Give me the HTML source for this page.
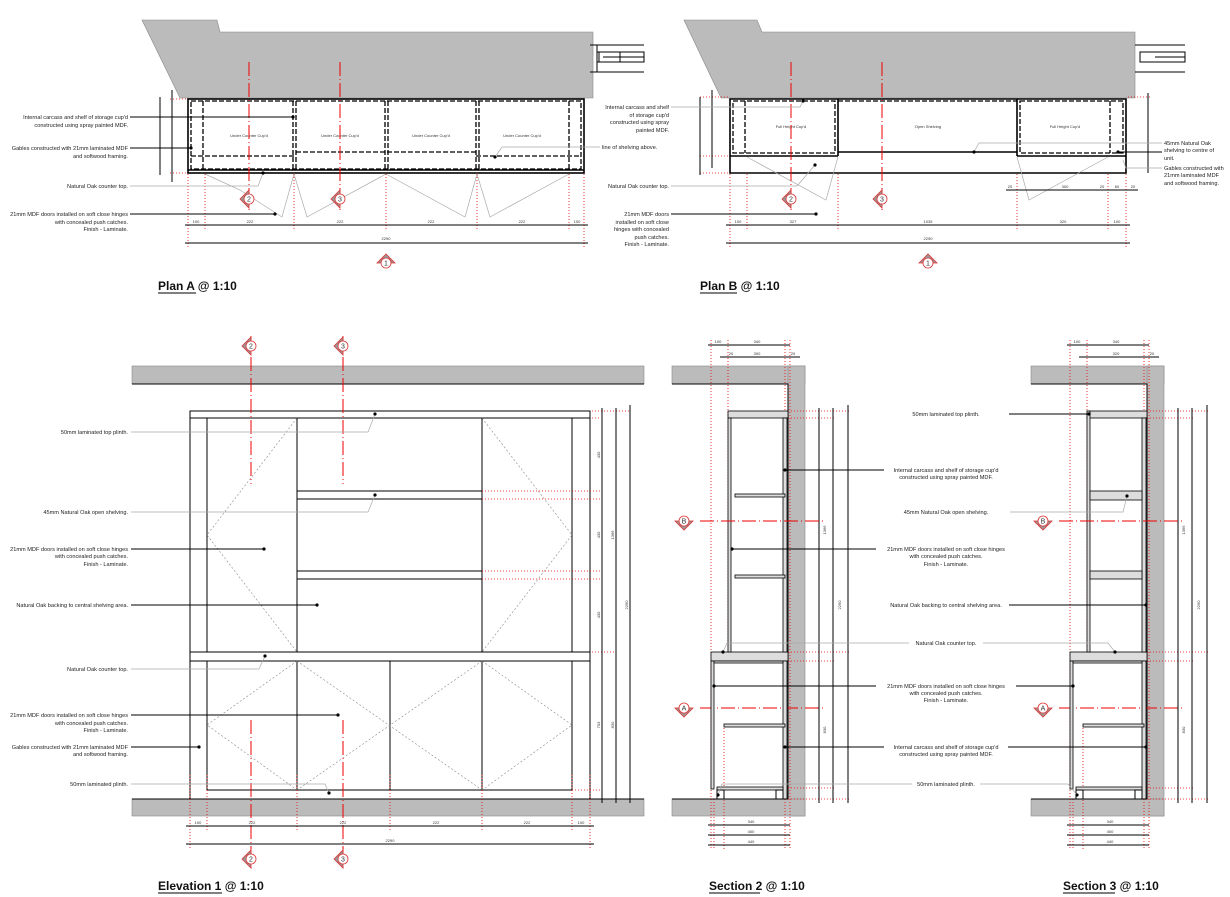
<!DOCTYPE html>
<html><head><meta charset="utf-8"><style>
html,body{margin:0;padding:0;background:#fff;}
svg{display:block;font-family:"Liberation Sans",sans-serif;}
.l{font-size:5.6px;fill:#222;}
.d{font-size:4px;fill:#333;}
.t{font-size:12px;font-weight:bold;fill:#111;}
.k{stroke:#000;stroke-width:1;fill:none;}
.k2{stroke:#000;stroke-width:1.6;fill:none;}
.g{stroke:#aaa;stroke-width:0.7;fill:none;}
.gd{stroke:#888;stroke-width:0.6;fill:none;stroke-dasharray:2 2;}
.dsh{stroke:#000;stroke-width:1.3;fill:none;stroke-dasharray:5 2;}
.rc{stroke:#e00;stroke-width:1;fill:none;stroke-dasharray:14 3 1 3;}
.rd{stroke:#e00;stroke-width:0.8;fill:none;stroke-dasharray:1 2;}
.wall{fill:#bbb;stroke:#888;stroke-width:0.6;}
.h{fill:#ddd;stroke:#000;stroke-width:0.8;}
</style></head><body>
<svg width="1230" height="897" viewBox="0 0 1230 897" xmlns="http://www.w3.org/2000/svg">
<defs>
<g id="mkL"><polygon points="-9,0 0,-9 0,9" fill="#999" stroke="#d33" stroke-width="0.8"/><circle r="5" fill="#fff" stroke="#d33" stroke-width="0.8"/></g>
<g id="mkU"><polygon points="-9,0 0,-9 9,0" fill="#999" stroke="#d33" stroke-width="0.8"/><circle r="5" fill="#fff" stroke="#d33" stroke-width="0.8"/></g>
<g id="mkD"><polygon points="-9,0 9,0 0,9" fill="#999" stroke="#d33" stroke-width="0.8"/><circle r="5" fill="#fff" stroke="#d33" stroke-width="0.8"/></g>
</defs>

<!-- ================= PLAN A ================= -->
<polygon class="wall" points="142,20 217,20 220,32 593,32 593,98 180,98"/>
<g class="k"><line x1="593" y1="45" x2="620" y2="45"/><line x1="593" y1="72" x2="620" y2="72"/><rect x="597" y="52" width="23" height="10"/><line x1="603" y1="57" x2="620" y2="57"/><line x1="597" y1="45" x2="597" y2="72"/></g>
<rect class="k2" x="188" y="99" width="396" height="74"/>
<line class="k2" x1="188" y1="170" x2="584" y2="170"/>
<g class="dsh">
<rect x="191" y="101" width="390" height="68"/>
<line x1="203" y1="101" x2="203" y2="169"/><line x1="293" y1="101" x2="293" y2="169"/><line x1="296" y1="101" x2="296" y2="169"/>
<line x1="385" y1="101" x2="385" y2="169"/><line x1="388" y1="101" x2="388" y2="169"/><line x1="476" y1="101" x2="476" y2="169"/><line x1="479" y1="101" x2="479" y2="169"/><line x1="569" y1="101" x2="569" y2="169"/>
<line x1="191" y1="156" x2="296" y2="156"/><line x1="296" y1="152" x2="476" y2="152"/><line x1="476" y1="156" x2="581" y2="156"/>
</g>
<g class="d" text-anchor="middle"><text x="249" y="137">Under Counter Cup'd</text><text x="340" y="137">Under Counter Cup'd</text><text x="431" y="137">Under Counter Cup'd</text><text x="522" y="137">Under Counter Cup'd</text></g>
<polyline class="g" points="205,174 240,190 282,217 294,174 307,217 386,174 465,217 477,174 490,217 569,174"/>
<line class="rc" x1="249" y1="62" x2="249" y2="210"/><line class="rc" x1="340" y1="62" x2="340" y2="210"/>
<g class="rd"><line x1="188" y1="174" x2="188" y2="247"/><line x1="205" y1="174" x2="205" y2="229"/><line x1="294" y1="174" x2="294" y2="229"/><line x1="386" y1="174" x2="386" y2="229"/><line x1="477" y1="174" x2="477" y2="229"/><line x1="569" y1="174" x2="569" y2="229"/><line x1="584" y1="174" x2="584" y2="247"/>
<line x1="170" y1="99" x2="186" y2="99"/><line x1="170" y1="173" x2="186" y2="173"/></g>
<g class="k"><line x1="185" y1="225" x2="588" y2="225"/><line x1="185" y1="243" x2="588" y2="243"/>
<line x1="160" y1="97" x2="160" y2="175"/><line x1="172" y1="90" x2="172" y2="182"/></g>
<g class="d" text-anchor="middle"><text x="196" y="223">100</text><text x="250" y="223">222</text><text x="340" y="223">222</text><text x="431" y="223">222</text><text x="522" y="223">222</text><text x="577" y="223">100</text><text x="386" y="240">2290</text></g>
<use href="#mkL" x="249" y="199"/><text x="249" y="201.5" class="d" text-anchor="middle" style="font-size:7px">2</text>
<use href="#mkL" x="340" y="199"/><text x="340" y="201.5" class="d" text-anchor="middle" style="font-size:7px">3</text>
<use href="#mkU" x="386" y="263"/><text x="386" y="265.5" class="d" text-anchor="middle" style="font-size:7px">1</text>
<g class="l" text-anchor="end">
<text x="128" y="119">Internal carcass and shelf of storage cup'd</text><text x="128" y="127">constructed using spray painted MDF.</text>
<text x="128" y="150">Gables constructed with 21mm laminated MDF</text><text x="128" y="158">and softwood framing.</text>
<text x="128" y="188">Natural Oak counter top.</text>
<text x="128" y="216">21mm MDF doors installed on soft close hinges</text><text x="128" y="224">with concealed push catches.</text><text x="128" y="231">Finish - Laminate.</text>
</g>
<g class="k"><line x1="130" y1="117" x2="293" y2="117"/><line x1="130" y1="148" x2="191" y2="148"/><line x1="130" y1="214" x2="275" y2="214"/></g>
<polyline class="g" points="130,186 258,186 263,173"/>
<polyline class="g" points="495,157 502,147 600,147"/>
<g fill="#000"><circle cx="293" cy="117" r="1.6"/><circle cx="191" cy="148" r="1.6"/><circle cx="275" cy="214" r="1.6"/><circle cx="263" cy="173" r="1.6"/><circle cx="495" cy="157" r="1.6"/></g>
<text x="602" y="149" class="l">line of shelving above.</text>
<text x="158" y="290" class="t">Plan A @ 1:10</text><line x1="158" y1="293" x2="196" y2="293" stroke="#000"/>

<!-- ================= PLAN B ================= -->
<polygon class="wall" points="684,20 757,20 762,32 1135,32 1135,98 721,98"/>
<g class="k"><line x1="590" y1="45" x2="644" y2="45"/><line x1="590" y1="72" x2="644" y2="72"/><rect x="599" y="52" width="45" height="10"/><line x1="614" y1="57" x2="644" y2="57"/>
<line x1="1135" y1="45" x2="1185" y2="45"/><line x1="1135" y1="72" x2="1185" y2="72"/><rect x="1140" y="52" width="45" height="10"/><line x1="1155" y1="57" x2="1185" y2="57"/></g>
<polygon class="k2" points="730,99 1126,99 1126,173 730,173"/>
<line class="k2" x1="730" y1="156" x2="838" y2="156"/><line class="k2" x1="838" y1="152" x2="1017" y2="152"/><line class="k2" x1="1017" y1="156" x2="1126" y2="156"/>
<line class="k2" x1="838" y1="99" x2="838" y2="156"/><line class="k2" x1="1017" y1="99" x2="1017" y2="156"/>
<g class="dsh"><rect x="733" y="101" width="102" height="52"/><rect x="1020" y="101" width="103" height="52"/><line x1="745" y1="101" x2="745" y2="153"/><line x1="1110" y1="101" x2="1110" y2="153"/><line x1="838" y1="101" x2="1017" y2="101"/></g>
<g class="d" text-anchor="middle"><text x="791" y="128">Full Height Cup'd</text><text x="928" y="128">Open Shelving</text><text x="1065" y="128">Full Height Cup'd</text></g>
<polyline class="g" points="747,157 826,200 838,157"/><polyline class="g" points="1108,157 1029,200 1017,157"/>
<line class="rc" x1="791" y1="62" x2="791" y2="210"/><line class="rc" x1="882" y1="62" x2="882" y2="210"/>
<g class="rd"><line x1="730" y1="174" x2="730" y2="247"/><line x1="747" y1="174" x2="747" y2="229"/><line x1="838" y1="174" x2="838" y2="229"/><line x1="1017" y1="174" x2="1017" y2="229"/><line x1="1108" y1="174" x2="1108" y2="229"/><line x1="1126" y1="174" x2="1126" y2="247"/>
<line x1="700" y1="97" x2="728" y2="97"/><line x1="700" y1="173" x2="728" y2="173"/><line x1="700" y1="156" x2="728" y2="156"/><line x1="1128" y1="97" x2="1150" y2="97"/></g>
<g class="k"><line x1="726" y1="225" x2="1130" y2="225"/><line x1="726" y1="243" x2="1130" y2="243"/><line x1="1006" y1="190" x2="1138" y2="190"/>
<line x1="700" y1="97" x2="700" y2="175"/><line x1="712" y1="90" x2="712" y2="168"/><line x1="1148" y1="93" x2="1148" y2="173"/></g>
<g class="d" text-anchor="middle"><text x="738" y="223">100</text><text x="793" y="223">327</text><text x="928" y="223">1035</text><text x="1063" y="223">320</text><text x="1117" y="223">100</text><text x="928" y="240">2290</text>
<text x="1010" y="188">20</text><text x="1065" y="188">300</text><text x="1102" y="188">20</text><text x="1117" y="188">60</text><text x="1133" y="188">20</text></g>
<use href="#mkL" x="791" y="199"/><text x="791" y="201.5" class="d" text-anchor="middle" style="font-size:7px">2</text>
<use href="#mkL" x="882" y="199"/><text x="882" y="201.5" class="d" text-anchor="middle" style="font-size:7px">3</text>
<use href="#mkU" x="928" y="263"/><text x="928" y="265.5" class="d" text-anchor="middle" style="font-size:7px">1</text>
<g class="l" text-anchor="end">
<text x="669" y="109">Internal carcass and shelf</text><text x="669" y="117">of storage cup'd</text><text x="669" y="124">constructed using spray</text><text x="669" y="132">painted MDF.</text>
<text x="669" y="188">Natural Oak counter top.</text>
<text x="669" y="216">21mm MDF doors</text><text x="669" y="224">installed on soft close</text><text x="669" y="231">hinges with concealed</text><text x="669" y="239">push catches.</text><text x="669" y="246">Finish - Laminate.</text>
</g>
<g class="l"><text x="1164" y="145">45mm Natural Oak</text><text x="1164" y="152">shelving to centre of</text><text x="1164" y="160">unit.</text>
<text x="1164" y="170">Gables constructed with</text><text x="1164" y="177">21mm laminated MDF</text><text x="1164" y="185">and softwood framing.</text></g>
<polyline class="g" points="671,107 800,107 803,101"/><polyline class="g" points="671,186 797,186 815,165"/>
<line class="k" x1="671" y1="214" x2="816" y2="214"/>
<polyline class="g" points="974,152 979,143 1162,143"/><line class="k" x1="1118" y1="152" x2="1162" y2="152"/><polyline class="g" points="1123,160 1126,168 1162,168"/>
<g fill="#000"><circle cx="803" cy="101" r="1.6"/><circle cx="815" cy="165" r="1.6"/><circle cx="816" cy="214" r="1.6"/><circle cx="974" cy="152" r="1.6"/><circle cx="1118" cy="152" r="1.6"/></g>
<text x="700" y="290" class="t">Plan B @ 1:10</text><line x1="700" y1="293" x2="737" y2="293" stroke="#000"/>

<!-- ================= ELEVATION 1 ================= -->
<rect class="wall" x="132" y="366" width="512" height="18" stroke="none"/><line class="k" x1="132" y1="384" x2="644" y2="384"/>
<rect class="wall" x="132" y="799" width="512" height="17" stroke="none"/><line class="k" x1="132" y1="799" x2="644" y2="799"/>
<g class="k">
<rect x="190" y="411" width="400" height="7"/>
<rect x="190" y="652" width="400" height="9"/>
<line x1="190" y1="418" x2="190" y2="652"/><line x1="590" y1="418" x2="590" y2="652"/>
<line x1="207" y1="418" x2="207" y2="652"/><line x1="297" y1="418" x2="297" y2="652"/><line x1="482" y1="418" x2="482" y2="652"/><line x1="572" y1="418" x2="572" y2="652"/>
<rect x="297" y="491" width="185" height="8"/><rect x="297" y="571" width="185" height="8"/>
<line x1="190" y1="661" x2="190" y2="799"/><line x1="590" y1="661" x2="590" y2="799"/>
<line x1="207" y1="661" x2="207" y2="790"/><line x1="297" y1="661" x2="297" y2="790"/><line x1="390" y1="661" x2="390" y2="790"/><line x1="482" y1="661" x2="482" y2="790"/><line x1="572" y1="661" x2="572" y2="790"/>
<line x1="207" y1="790" x2="572" y2="790"/>
</g>
<g class="gd"><polyline points="297,418 207,535 297,652"/><polyline points="482,418 572,535 482,652"/>
<polyline points="297,661 207,725 297,790"/><line x1="297" y1="661" x2="482" y2="790"/><line x1="482" y1="661" x2="297" y2="790"/><polyline points="482,661 572,725 482,790"/></g>
<line class="rc" x1="251" y1="336" x2="251" y2="484"/><line class="rc" x1="343" y1="336" x2="343" y2="484"/>
<line class="rc" x1="251" y1="720" x2="251" y2="868"/><line class="rc" x1="343" y1="720" x2="343" y2="868"/>
<g class="rd"><line x1="190" y1="775" x2="190" y2="848"/><line x1="207" y1="775" x2="207" y2="830"/><line x1="297" y1="775" x2="297" y2="830"/><line x1="390" y1="775" x2="390" y2="830"/><line x1="482" y1="775" x2="482" y2="830"/><line x1="572" y1="775" x2="572" y2="830"/><line x1="590" y1="775" x2="590" y2="848"/>
<line x1="482" y1="491" x2="600" y2="491"/><line x1="482" y1="499" x2="600" y2="499"/><line x1="482" y1="571" x2="600" y2="571"/><line x1="482" y1="579" x2="600" y2="579"/><line x1="592" y1="411" x2="630" y2="411"/><line x1="592" y1="418" x2="600" y2="418"/><line x1="592" y1="652" x2="616" y2="652"/><line x1="572" y1="790" x2="600" y2="790"/></g>
<g class="k"><line x1="186" y1="826" x2="594" y2="826"/><line x1="186" y1="844" x2="594" y2="844"/>
<line x1="602" y1="408" x2="602" y2="803"/><line x1="616" y1="408" x2="616" y2="803"/><line x1="630" y1="405" x2="630" y2="803"/></g>
<g class="d" text-anchor="middle"><text x="198" y="824">100</text><text x="252" y="824">222</text><text x="343" y="824">222</text><text x="436" y="824">222</text><text x="527" y="824">222</text><text x="581" y="824">100</text><text x="390" y="842">2290</text></g>
<g class="d" text-anchor="middle"><text transform="translate(600,455) rotate(-90)">430</text><text transform="translate(600,535) rotate(-90)">430</text><text transform="translate(600,615) rotate(-90)">430</text><text transform="translate(600,725) rotate(-90)">703</text><text transform="translate(614,535) rotate(-90)">1366</text><text transform="translate(614,725) rotate(-90)">830</text><text transform="translate(628,605) rotate(-90)">2290</text></g>
<use href="#mkL" x="251" y="346"/><text x="251" y="348.5" class="d" text-anchor="middle" style="font-size:7px">2</text>
<use href="#mkL" x="343" y="346"/><text x="343" y="348.5" class="d" text-anchor="middle" style="font-size:7px">3</text>
<use href="#mkL" x="251" y="859"/><text x="251" y="861.5" class="d" text-anchor="middle" style="font-size:7px">2</text>
<use href="#mkL" x="343" y="859"/><text x="343" y="861.5" class="d" text-anchor="middle" style="font-size:7px">3</text>
<g class="l" text-anchor="end">
<text x="128" y="434">50mm laminated top plinth.</text>
<text x="128" y="514">45mm Natural Oak open shelving.</text>
<text x="128" y="551">21mm MDF doors installed on soft close hinges</text><text x="128" y="558">with concealed push catches.</text><text x="128" y="566">Finish - Laminate.</text>
<text x="128" y="607">Natural Oak backing to central shelving area.</text>
<text x="128" y="671">Natural Oak counter top.</text>
<text x="128" y="717">21mm MDF doors installed on soft close hinges</text><text x="128" y="725">with concealed push catches.</text><text x="128" y="732">Finish - Laminate.</text>
<text x="128" y="749">Gables constructed with 21mm laminated MDF</text><text x="128" y="756">and softwood framing.</text>
<text x="128" y="786">50mm laminated plinth.</text>
</g>
<polyline class="g" points="131,432 368,432 375,414"/><polyline class="g" points="131,512 368,512 375,495"/><polyline class="g" points="131,669 259,669 265,656"/><polyline class="g" points="131,784 325,784 329,793"/>
<g class="k"><line x1="131" y1="549" x2="264" y2="549"/><line x1="131" y1="605" x2="317" y2="605"/><line x1="131" y1="715" x2="338" y2="715"/><line x1="131" y1="747" x2="199" y2="747"/></g>
<g fill="#000"><circle cx="375" cy="414" r="1.6"/><circle cx="375" cy="495" r="1.6"/><circle cx="264" cy="549" r="1.6"/><circle cx="317" cy="605" r="1.6"/><circle cx="265" cy="656" r="1.6"/><circle cx="338" cy="715" r="1.6"/><circle cx="199" cy="747" r="1.6"/><circle cx="329" cy="793" r="1.6"/></g>
<text x="158" y="890" class="t">Elevation 1 @ 1:10</text><line x1="158" y1="893" x2="222" y2="893" stroke="#000"/>

<!-- ================= SECTION 2 ================= -->
<g id="sec">
<rect class="wall" x="672" y="366" width="133" height="18" stroke="none"/>
<rect class="wall" x="788" y="366" width="17" height="450" stroke="none"/>
<rect class="wall" x="672" y="799" width="133" height="17" stroke="none"/>
<polyline class="k" points="672,384 788,384 788,799 672,799"/>
<g class="rd"><line x1="711" y1="340" x2="711" y2="850"/><line x1="728" y1="340" x2="728" y2="652"/><line x1="785" y1="340" x2="785" y2="850"/><line x1="790" y1="340" x2="790" y2="850"/><line x1="714" y1="799" x2="714" y2="850"/><line x1="724" y1="728" x2="724" y2="850"/>
<line x1="788" y1="411" x2="850" y2="411"/><line x1="788" y1="418" x2="834" y2="418"/><line x1="788" y1="652" x2="850" y2="652"/><line x1="788" y1="661" x2="834" y2="661"/><line x1="788" y1="788" x2="834" y2="788"/><line x1="788" y1="799" x2="850" y2="799"/></g>
<line class="rc" x1="700" y1="708" x2="823" y2="708"/>
<use href="#mkD" x="684" y="708"/><text x="684" y="710.5" class="d" text-anchor="middle" style="font-size:7px">A</text>
<g class="k"><line x1="819" y1="408" x2="819" y2="803"/><line x1="833" y1="408" x2="833" y2="803"/><line x1="848" y1="405" x2="848" y2="803"/>
<line x1="708" y1="825" x2="790" y2="825"/><line x1="708" y1="835" x2="790" y2="835"/><line x1="708" y1="845" x2="790" y2="845"/><line x1="708" y1="345" x2="790" y2="345"/><line x1="720" y1="357" x2="800" y2="357"/></g>
<g class="d" text-anchor="middle"><text x="751" y="823">340</text><text x="751" y="833">400</text><text x="751" y="843">440</text><text x="718" y="343">100</text><text x="757" y="343">340</text><text x="793" y="355">20</text>
<text transform="translate(826,730) rotate(-90)">830</text><text transform="translate(841,605) rotate(-90)">2290</text><text transform="translate(826,530) rotate(-90)">1366</text></g>
<rect class="h" x="711" y="652" width="77" height="9"/>
<rect class="h" x="711" y="661" width="3" height="128"/><rect class="h" x="783" y="661" width="4" height="138"/>
<rect class="h" x="714" y="661" width="69" height="2"/>
<rect class="h" x="724" y="724" width="61" height="3"/>
<rect class="h" x="717" y="787" width="66" height="3"/>
<rect class="k" x="717" y="790" width="7" height="9"/><rect class="k" x="776" y="790" width="7" height="9"/>
<line class="k" x1="711" y1="799" x2="788" y2="799"/>
</g>
<rect class="h" x="728" y="411" width="60" height="7"/>
<rect class="h" x="728" y="418" width="3" height="234"/><rect class="h" x="783" y="418" width="4" height="234"/>
<rect class="h" x="735" y="494" width="50" height="3"/><rect class="h" x="735" y="575" width="50" height="3"/>
<line class="rc" x1="700" y1="521" x2="823" y2="521"/>
<use href="#mkD" x="684" y="521"/><text x="684" y="523.5" class="d" text-anchor="middle" style="font-size:7px">B</text>
<g class="d" text-anchor="middle"><text x="731" y="355">20</text><text x="757" y="355">300</text></g>
<text x="709" y="890" class="t">Section 2 @ 1:10</text><line x1="709" y1="893" x2="760" y2="893" stroke="#000"/>

<!-- ================= SECTION 3 ================= -->
<use href="#sec" x="359" y="0"/>
<rect class="h" x="1087" y="411" width="60" height="7"/>
<rect class="h" x="1087" y="411" width="3" height="241"/><rect class="h" x="1142" y="418" width="4" height="234"/>
<rect class="h" x="1090" y="491" width="52" height="9"/><rect class="h" x="1090" y="571" width="52" height="8"/>
<line class="rc" x1="1059" y1="521" x2="1182" y2="521"/>
<use href="#mkD" x="1043" y="521"/><text x="1043" y="523.5" class="d" text-anchor="middle" style="font-size:7px">B</text>
<g class="d" text-anchor="middle"><text x="1116" y="355">320</text></g>
<text x="1063" y="890" class="t">Section 3 @ 1:10</text><line x1="1063" y1="893" x2="1115" y2="893" stroke="#000"/>

<!-- Section labels (shared) -->
<g class="l" text-anchor="middle">
<text x="946" y="416">50mm laminated top plinth.</text>
<text x="946" y="472">Internal carcass and shelf of storage cup'd</text><text x="946" y="479">constructed using spray painted MDF.</text>
<text x="946" y="514">45mm Natural Oak open shelving.</text>
<text x="946" y="551">21mm MDF doors installed on soft close hinges</text><text x="946" y="558">with concealed push catches.</text><text x="946" y="566">Finish - Laminate.</text>
<text x="946" y="607">Natural Oak backing to central shelving area.</text>
<text x="946" y="645">Natural Oak counter top.</text>
<text x="946" y="688">21mm MDF doors installed on soft close hinges</text><text x="946" y="695">with concealed push catches.</text><text x="946" y="702">Finish - Laminate.</text>
<text x="946" y="749">Internal carcass and shelf of storage cup'd</text><text x="946" y="756">constructed using spray painted MDF.</text>
<text x="946" y="786">50mm laminated plinth.</text>
</g>
<g class="k"><line x1="1009" y1="414" x2="1089" y2="414"/><line x1="785" y1="470" x2="884" y2="470"/><line x1="732" y1="549" x2="876" y2="549"/><line x1="1009" y1="605" x2="1146" y2="605"/>
<line x1="714" y1="686" x2="876" y2="686"/><line x1="1016" y1="686" x2="1073" y2="686"/><line x1="785" y1="747" x2="884" y2="747"/><line x1="1008" y1="747" x2="1146" y2="747"/></g>
<polyline class="g" points="1010,512 1123,512 1127,496"/><polyline class="g" points="723,652 727,643 909,643"/><polyline class="g" points="983,643 1108,643 1115,652"/>
<polyline class="g" points="718,795 722,784 912,784"/><polyline class="g" points="980,784 1068,784 1077,795"/>
<g fill="#000"><circle cx="1089" cy="414" r="1.6"/><circle cx="785" cy="470" r="1.6"/><circle cx="1127" cy="496" r="1.6"/><circle cx="732" cy="549" r="1.6"/><circle cx="1146" cy="605" r="1.6"/><circle cx="723" cy="652" r="1.6"/><circle cx="1115" cy="652" r="1.6"/><circle cx="714" cy="686" r="1.6"/><circle cx="1073" cy="686" r="1.6"/><circle cx="785" cy="747" r="1.6"/><circle cx="1146" cy="747" r="1.6"/><circle cx="718" cy="795" r="1.6"/><circle cx="1077" cy="795" r="1.6"/></g>
</svg>
</body></html>
